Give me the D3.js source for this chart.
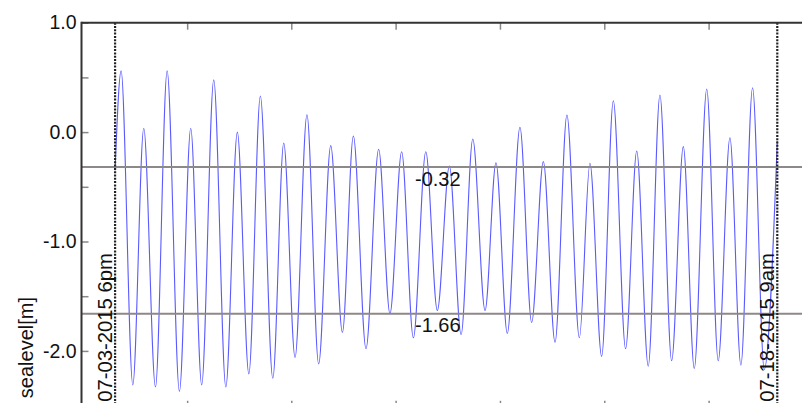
<!DOCTYPE html>
<html>
<head>
<meta charset="utf-8">
<script src="https://cdn.jsdelivr.net/npm/d3@7"></script>
<style>
body { margin: 0; background: #fff; }
svg { display: block; font-family: "Liberation Sans", Arial, sans-serif; }
</style>
</head>
<body>
<script>
// tide extrema, hours after 07-03-2015 6pm
var hours = [0, 3.2, 9.4, 15.2, 21.4, 27.6, 34.1, 40.1, 45.9, 52.3, 58.7, 64.8, 70.9, 77.0, 83.6,
    89.4, 95.4, 101.7, 107.9, 114.3, 120.5, 126.3, 133.0, 139.7, 145.7, 151.9, 158.1, 164.7,
    170.8, 177.2, 183.4, 189.6, 196.1, 201.9, 207.9, 214.6, 220.8, 227.0, 233.2, 239.5, 246.1,
    251.7, 257.9, 264.1, 270.6, 276.5, 282.6, 288.8, 295.0, 301.2, 307.0, 313.6, 319.7, 325.9,
    331.7, 337.9, 344.1, 351];
var levels = [-0.35, 0.56, -2.31, 0.035, -2.33, 0.56, -2.37, 0.035, -2.31, 0.477, -2.33, 0.0, -2.21, 0.33, -2.25,
    -0.10, -2.06, 0.159, -2.12, -0.124, -1.83, -0.036, -1.98, -0.157, -1.66, -0.179, -1.88, -0.179,
    -1.63, -0.31, -1.85, -0.063, -1.63, -0.28, -1.84, 0.044, -1.74, -0.27, -1.92, 0.156, -1.88,
    -0.285, -2.05, 0.287, -1.98, -0.173, -2.14, 0.339, -2.09, -0.133, -2.16, 0.394, -2.09, -0.051,
    -2.13, 0.406, -2.17, -0.08];

var refLevels = [-0.32, -1.66];
var refLabels = ["-0.32", "-1.66"];
var markerHours = [0, 351];
var markerLabels = ["07-03-2015 6pm", "07-18-2015 9am"];
var yTicks = [-2.5, -2, -1.5, -1, -0.5, 0, 0.5, 1];
var xTicks = [38.2, 93.4, 148.7, 204.0, 259.3, 314.6];
var yLabel = "sealevel[m]";

var W = 802, H = 403;

var x = d3.scaleLinear().domain([-17.8, 364.1]).range([81.5, 802]);
var y = d3.scaleLinear().domain([-2.52, 1]).range([407.8, 22.7]);

var svg = d3.select("body").append("svg")
    .attr("width", W)
    .attr("height", H);

// tide curve
var line = d3.line()
    .x((d, i) => x(hours[i]))
    .y(d => y(d))
    .curve(d3.curveMonotoneX);

svg.append("path")
    .datum(levels)
    .attr("fill", "none")
    .attr("stroke", "#5a5aff")
    .attr("stroke-width", 1.1)
    .attr("d", line);

// reference levels
svg.selectAll(".ref")
    .data(refLevels)
    .enter().append("line")
    .attr("x1", x.range()[0]).attr("x2", x.range()[1])
    .attr("y1", d => y(d)).attr("y2", d => y(d))
    .attr("stroke", "#8e8989")
    .attr("stroke-width", 2);

svg.selectAll(".reflabel")
    .data(refLevels)
    .enter().append("text")
    .attr("x", 415)
    .attr("y", d => y(d) + 18.5)
    .attr("font-size", 20)
    .attr("fill", "#111")
    .text((d, i) => refLabels[i]);

// start / end markers
svg.selectAll(".marker")
    .data(markerHours)
    .enter().append("line")
    .attr("x1", d => x(d)).attr("x2", d => x(d))
    .attr("y1", y(1)).attr("y2", H)
    .attr("stroke", "#222")
    .attr("stroke-width", 2.2)
    .attr("stroke-dasharray", "2,1.3");

svg.selectAll(".markerlabel")
    .data(markerHours)
    .enter().append("text")
    .attr("transform", d => "translate(" + (x(d) - 3) + ",253) rotate(-90)")
    .attr("text-anchor", "end")
    .attr("font-size", 20.3)
    .attr("fill", "#111")
    .text((d, i) => markerLabels[i]);

// axes
svg.append("g")
    .attr("transform", "translate(0," + y(1) + ")")
    .call(d3.axisTop(x).tickValues(xTicks).tickSize(-7).tickFormat(""))
    .call(g => g.select(".domain").remove());

svg.append("g")
    .attr("transform", "translate(0," + y(-2.52) + ")")
    .call(d3.axisBottom(x).tickValues(xTicks).tickSize(-7).tickFormat(""))
    .call(g => g.select(".domain").remove());

svg.append("g")
    .attr("transform", "translate(" + x(-17.8) + ",0)")
    .call(d3.axisLeft(y).tickValues(yTicks).tickSize(-7).tickPadding(5)
        .tickFormat(d => Number.isInteger(d) ? d.toFixed(1) : ""))
    .call(g => g.select(".domain").remove())
    .selectAll("text")
    .attr("font-size", 19.5)
    .attr("font-family", "Liberation Sans, Arial, sans-serif")
    .attr("fill", "#111");

svg.selectAll(".tick line")
    .attr("stroke", "#888")
    .attr("stroke-width", 1.5);

// frame
svg.append("line")
    .attr("x1", x(-17.8)).attr("x2", W)
    .attr("y1", y(1)).attr("y2", y(1))
    .attr("stroke", "#333").attr("stroke-width", 2);
svg.append("line")
    .attr("x1", x(-17.8)).attr("x2", x(-17.8))
    .attr("y1", y(1) - 1).attr("y2", H)
    .attr("stroke", "#333").attr("stroke-width", 2);

// y label
svg.append("text")
    .attr("transform", "translate(33,297) rotate(-90)")
    .attr("text-anchor", "end")
    .attr("font-size", 20)
    .attr("fill", "#111")
    .text(yLabel);
</script>
</body>
</html>
